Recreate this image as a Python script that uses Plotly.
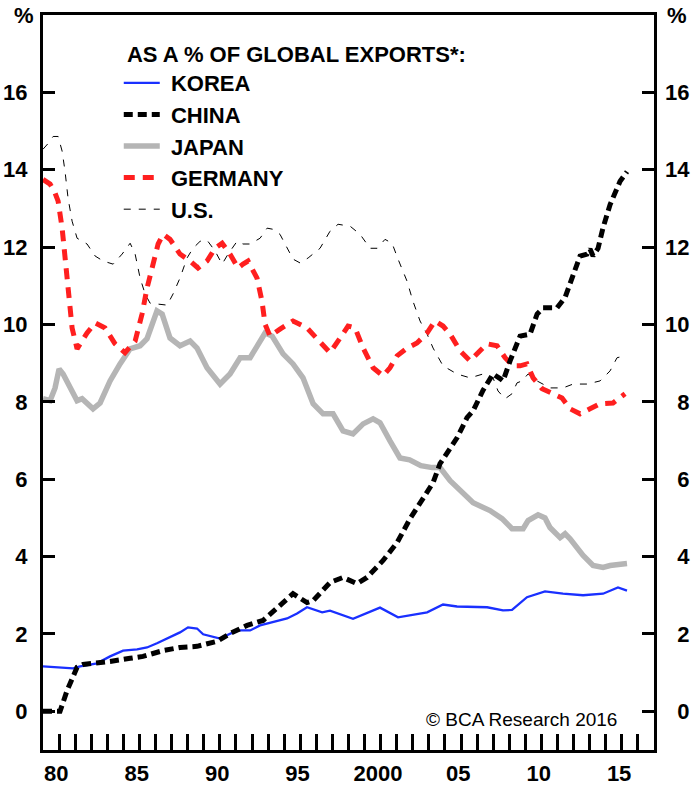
import plotly.graph_objects as go

# ---------------- data ----------------
KOREA_X = [1979.0, 1980.06, 1980.87, 1981.31, 1982.36, 1983.17, 1983.98, 1984.85, 1985.47, 1986.09,
           1986.9, 1987.52, 1988.02, 1988.58, 1988.96, 1990.01, 1991.07, 1991.88, 1992.5, 1993.31,
           1994.18, 1994.8, 1995.42, 1996.36, 1996.85, 1998.28, 1999.96, 2001.08, 2002.26, 2002.89,
           2003.88, 2004.75, 2006.62, 2007.61, 2008.17, 2009.1, 2010.22, 2011.34, 2012.59, 2013.83,
           2014.76, 2015.32]
KOREA_Y = [1.16, 1.14, 1.11, 1.16, 1.24, 1.42, 1.57, 1.60, 1.65, 1.76,
           1.91, 2.04, 2.17, 2.14, 1.99, 1.88, 2.09, 2.09, 2.22, 2.30,
           2.40, 2.53, 2.69, 2.56, 2.60, 2.39, 2.68, 2.43, 2.52, 2.56,
           2.76, 2.71, 2.69, 2.61, 2.62, 2.95, 3.10, 3.04, 3.00, 3.04,
           3.20, 3.12]

CHINA_X = [1979.0, 1980.06, 1980.5, 1980.81, 1981.12, 1981.49, 1982.36, 1983.17, 1984.42, 1985.22,
           1986.47, 1987.52, 1988.58, 1989.83, 1990.63, 1991.69, 1992.69, 1993.56, 1994.55, 1995.42,
           1995.8, 1996.85, 1997.66, 1998.53, 1999.15, 2000.15, 2001.02, 2001.83, 2002.64, 2003.26,
           2003.69, 2004.32, 2004.75, 2005.37, 2005.75, 2006.37, 2006.99, 2007.43, 2007.61, 2008.05,
           2008.67, 2009.29, 2009.73, 2010.1, 2010.97, 2011.47, 2011.9, 2012.4, 2012.84, 2013.02,
           2013.21, 2013.52, 2013.83, 2014.27, 2014.89, 2015.32]
CHINA_Y = [0.0, 0.0, 0.54, 0.88, 1.14, 1.21, 1.24, 1.29, 1.37, 1.42,
           1.57, 1.65, 1.68, 1.81, 2.01, 2.22, 2.35, 2.69, 3.04, 2.81,
           2.86, 3.33, 3.46, 3.30, 3.46, 3.90, 4.36, 4.98, 5.50, 5.91,
           6.40, 6.79, 7.07, 7.59, 7.77, 8.30, 8.72, 8.60, 8.54, 9.06,
           9.70, 9.75, 10.27, 10.43, 10.43, 10.70, 11.20, 11.77, 11.82, 11.95,
           11.77, 11.97, 12.50, 13.10, 13.70, 13.95]

JAPAN_X = [1979.0, 1979.44, 1979.75, 1980.0, 1980.25, 1980.68, 1981.12, 1981.43, 1982.11, 1982.55,
           1983.17, 1983.79, 1984.42, 1985.04, 1985.47, 1986.09, 1986.41, 1986.9, 1987.52, 1988.15,
           1988.58, 1989.2, 1990.01, 1990.63, 1991.26, 1991.88, 1992.5, 1992.81, 1993.25, 1993.93,
           1994.55, 1995.17, 1995.8, 1996.42, 1997.04, 1997.66, 1998.28, 1998.91, 1999.53, 1999.96,
           2000.58, 2001.2, 2001.8, 2002.5, 2003.2, 2003.69, 2004.32, 2004.75, 2005.75, 2006.8,
           2007.55, 2008.17, 2008.86, 2009.17, 2009.79, 2010.22, 2010.53, 2011.16, 2011.47, 2011.78,
           2012.59, 2013.21, 2013.83, 2014.27, 2015.32]
JAPAN_Y = [8.08, 8.03, 8.36, 8.85, 8.72, 8.41, 8.03, 8.08, 7.82, 7.97,
           8.54, 8.98, 9.37, 9.45, 9.63, 10.35, 10.27, 9.65, 9.45, 9.57,
           9.39, 8.88, 8.46, 8.72, 9.14, 9.14, 9.57, 9.78, 9.70, 9.24,
           8.98, 8.62, 7.95, 7.69, 7.69, 7.25, 7.17, 7.43, 7.56, 7.46,
           6.99, 6.55, 6.50, 6.35, 6.30, 6.30, 5.96, 5.78, 5.39, 5.19,
           4.98, 4.72, 4.72, 4.93, 5.08, 5.00, 4.75, 4.49, 4.59, 4.46,
           4.03, 3.77, 3.72, 3.77, 3.82]

GERMANY_X = [1979.0, 1979.44, 1979.75, 1979.94, 1980.19, 1980.37, 1980.56, 1980.81, 1981.12, 1981.43,
             1981.74, 1982.24, 1982.86, 1983.48, 1984.1, 1984.73, 1985.16, 1985.47, 1985.85, 1986.16,
             1986.47, 1986.9, 1987.52, 1988.15, 1988.64, 1989.2, 1989.7, 1990.14, 1990.63, 1991.13,
             1991.44, 1991.75, 1992.31, 1992.62, 1992.81, 1993.12, 1993.74, 1994.55, 1995.42, 1996.23,
             1996.85, 1997.48, 1997.97, 1998.41, 1998.91, 1999.53, 2000.15, 2000.58, 2001.02, 2001.64,
             2002.26, 2002.89, 2003.38, 2003.88, 2004.32, 2004.94, 2005.56, 2006.18, 2006.62, 2007.24,
             2007.74, 2008.23, 2008.67, 2009.1, 2009.48, 2010.04, 2010.72, 2011.28, 2011.78, 2012.4,
             2013.02, 2013.64, 2014.45, 2015.2]
GERMANY_Y = [13.75, 13.63, 13.40, 13.19, 12.49, 11.64, 10.79, 9.91, 9.37, 9.57,
             9.78, 10.04, 9.91, 9.50, 9.27, 9.57, 10.27, 10.94, 11.64, 12.08,
             12.33, 12.20, 11.82, 11.64, 11.46, 11.64, 11.97, 12.10, 11.82, 11.46,
             11.56, 11.64, 11.20, 10.60, 10.01, 9.70, 9.88, 10.09, 9.91, 9.57,
             9.27, 9.65, 9.96, 9.91, 9.39, 8.88, 8.67, 8.88, 9.19, 9.39,
             9.52, 9.78, 10.09, 9.96, 9.75, 9.32, 9.06, 9.32, 9.50, 9.45,
             9.14, 8.93, 8.93, 8.98, 8.62, 8.34, 8.21, 8.10, 7.82, 7.69,
             7.82, 7.95, 7.97, 8.21]

US_X = [1979.0, 1979.32, 1979.63, 1979.94, 1980.19, 1980.37, 1980.56, 1980.81, 1981.12, 1981.74,
        1982.24, 1982.74, 1983.36, 1983.92, 1984.42, 1984.73, 1985.04, 1985.35, 1985.66, 1986.09,
        1986.72, 1987.09, 1987.52, 1987.96, 1988.33, 1988.77, 1989.2, 1989.7, 1990.14, 1990.51,
        1991.07, 1991.44, 1991.88, 1992.5, 1992.94, 1993.31, 1993.74, 1994.55, 1994.99, 1995.49,
        1996.23, 1996.85, 1997.35, 1998.1, 1998.72, 1999.34, 1999.78, 2000.27, 2000.71, 2001.08,
        2001.64, 2002.01, 2002.45, 2002.89, 2003.26, 2003.88, 2004.75, 2005.56, 2006.37, 2006.99,
        2007.3, 2007.74, 2008.17, 2008.48, 2008.79, 2009.17, 2009.73, 2010.53, 2011.34, 2011.97,
        2012.84, 2013.64, 2014.27, 2014.7, 2015.2]
US_Y = [14.53, 14.68, 14.86, 14.86, 14.48, 13.96, 13.26, 12.67, 12.23, 12.08,
        11.77, 11.64, 11.56, 11.82, 12.10, 11.82, 11.20, 10.79, 10.55, 10.53,
        10.50, 10.79, 11.20, 11.72, 11.97, 12.15, 12.18, 11.90, 11.56, 11.82,
        12.15, 12.08, 12.08, 12.23, 12.49, 12.46, 12.33, 11.69, 11.59, 11.72,
        11.97, 12.41, 12.59, 12.54, 12.33, 11.97, 11.97, 12.20, 12.10, 11.69,
        11.12, 10.60, 10.09, 9.75, 9.39, 8.93, 8.72, 8.62, 8.72, 8.62,
        8.28, 8.08, 8.21, 8.49, 8.54, 8.72, 8.54, 8.36, 8.36, 8.46,
        8.46, 8.54, 8.80, 9.14, 9.19]

X_TICK_YEARS = [1980, 1985, 1990, 1995, 2000, 2005, 2010, 2015]
X_TICK_LABELS = ["80", "85", "90", "95", "2000", "05", "10", "15"]
MINOR_TICK_YEARS = list(range(1980, 2017))
Y_TICKS = [0, 2, 4, 6, 8, 10, 12, 14, 16]

# ---------------- figure ----------------
FONT = "Liberation Sans, Arial, sans-serif"
LABEL_SHIFT = -0.17  # labels sit slightly left of their year ticks
NBSP = "\u00a0"

fig = go.Figure()

series = [
    # name, x, y, line style, legend rank
    ("JAPAN", JAPAN_X, JAPAN_Y, dict(color="#b5b5b5", width=5.5), 3),
    ("KOREA", KOREA_X, KOREA_Y, dict(color="#1a30ff", width=2.3), 1),
    ("U.S.", US_X, US_Y, dict(color="#000000", width=1, dash="7px,8px"), 5),
    ("GERMANY", GERMANY_X, GERMANY_Y, dict(color="#ff1f1f", width=5, dash="11px,8px"), 4),
    ("CHINA", CHINA_X, CHINA_Y, dict(color="#000000", width=5, dash="9px,5px"), 2),
]
for name, xs, ys, line, rank in series:
    fig.add_trace(go.Scatter(x=xs, y=ys, mode="lines", name=NBSP + name, line=line,
                             legendrank=rank, hoverinfo="skip"))

# dummy trace to carry the right-hand axis labels
fig.add_trace(go.Scatter(x=[None], y=[None], yaxis="y2", showlegend=False, hoverinfo="skip"))

tickfont = dict(family=FONT, size=22, color="black", weight="bold")

fig.update_layout(
    width=693, height=786,
    margin=dict(l=43, r=39, t=15, b=36, autoexpand=False),
    paper_bgcolor="white", plot_bgcolor="white",
    showlegend=True,
    legend=dict(
        x=0.124, y=0.975, xanchor="left", yanchor="top",
        bgcolor="rgba(0,0,0,0)",
        font=dict(family=FONT, size=22, color="black", weight="bold"),
        title=dict(text=NBSP + "AS A % OF GLOBAL EXPORTS*:",
                   font=dict(family=FONT, size=22, color="black", weight="bold")),
        itemwidth=36, traceorder="normal",
    ),
    xaxis=dict(
        range=[1979, 2017], showgrid=False, zeroline=False, automargin=False,
        showline=True, linecolor="black", linewidth=3, mirror=True,
        tickvals=[v + LABEL_SHIFT for v in X_TICK_YEARS], ticktext=X_TICK_LABELS,
        ticks="", tickfont=tickfont, ticklabelstandoff=2,
        minor=dict(tickvals=MINOR_TICK_YEARS, ticks="inside", ticklen=16,
                   tickwidth=2.5, tickcolor="black"),
    ),
    yaxis=dict(
        range=[-1, 18], showgrid=False, zeroline=False, automargin=False,
        showline=True, linecolor="black", linewidth=3, mirror="ticks",
        tickvals=Y_TICKS, ticktext=[str(v) for v in Y_TICKS],
        ticks="inside", ticklen=12, tickwidth=3, tickcolor="black",
        tickfont=tickfont, ticklabelstandoff=8,
    ),
    yaxis2=dict(
        range=[-1, 18], overlaying="y", side="right", showgrid=False, zeroline=False,
        showline=False, ticks="", automargin=False,
        tickvals=Y_TICKS,
        ticktext=[("\u2007" if v < 10 else "") + str(v) for v in Y_TICKS],
        tickfont=tickfont, ticklabelstandoff=10,
    ),
    annotations=[
        dict(text="%", xref="paper", yref="paper", x=-0.031, y=1.0, xanchor="center",
             yanchor="middle", showarrow=False,
             font=dict(family=FONT, size=22, color="black", weight="bold")),
        dict(text="%", xref="paper", yref="paper", x=1.037, y=1.0, xanchor="center",
             yanchor="middle", showarrow=False,
             font=dict(family=FONT, size=22, color="black", weight="bold")),
        dict(text="© BCA Research 2016", xref="paper", yref="paper", x=0.942, y=0.042,
             xanchor="right", yanchor="middle", showarrow=False,
             font=dict(family=FONT, size=19, color="black")),
    ],
)

fig.write_html(
    "out.html",
    config={"displayModeBar": False},
    post_script="document.body.style.margin='0';document.body.style.overflow='hidden';",
)
